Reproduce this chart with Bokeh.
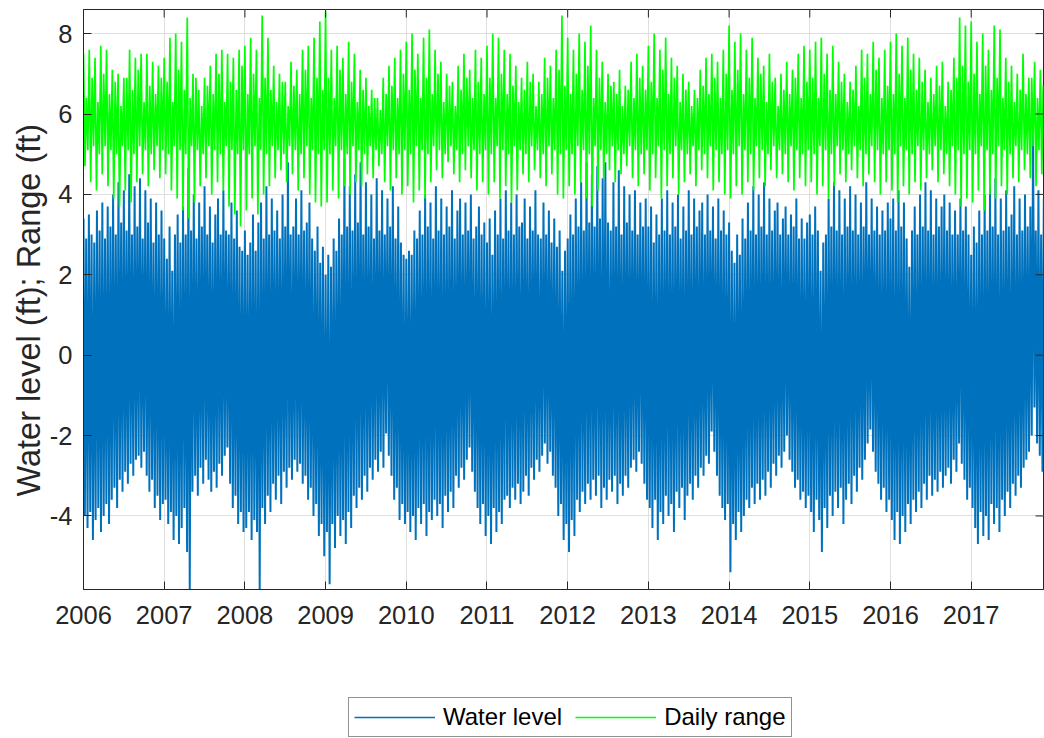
import numpy as np
from bokeh.plotting import figure
from bokeh.layouts import column
from bokeh.models import Range1d, FixedTicker, Legend, LegendItem, Title
from bokeh.embed import file_html
from bokeh.resources import INLINE

# ---------------- data ----------------
years = list(range(2006, 2018))
year_ticks = [2006, 2007, 2008, 2009, 2010, 2011, 2012, 2013, 2014, 2015, 2016, 2017]
level_ticks = [-4, -2, 0, 2, 4, 6, 8]

# Water level: high / low of each ~12-day window, 30 windows per year (ft)
wl_high = [
    [3.4,2.9,3.5,3.0,2.8,3.6,3.1,3.8,2.9,3.7, 3.2,4.0,3.0,4.3,3.3,4.1,3.1,4.5,3.0,4.2, 3.2,4.4,2.9,4.1,3.3,3.9,2.8,3.8,3.0,3.6],
    [2.9,2.4,3.2,2.1,3.0,3.5,2.8,3.7,3.0,4.65, 3.1,4.0,2.9,3.8,3.2,4.2,3.0,3.7,2.8,3.5, 3.9,3.0,4.1,3.1,3.0,3.8,2.9,3.6,2.7,2.6],
    [3.1,2.5,2.8,3.5,2.6,3.3,3.8,2.9,4.2,3.0, 3.9,3.1,3.6,2.9,4.0,3.2,4.8,3.0,3.2,3.9, 3.0,4.1,3.1,3.3,3.8,2.9,2.6,3.2,2.3,2.7],
    [2.0,2.5,2.2,2.9,2.6,3.4,3.0,4.9,3.2,4.2, 3.1,4.5,3.3,4.8,3.0,4.3,3.2,4.0,2.9,4.4, 3.1,4.1,3.0,3.9,3.2,4.2,2.9,3.7,2.8,2.5],
    [2.4,2.6,2.5,3.1,2.9,3.6,3.0,4.0,3.2,3.8, 2.9,4.2,3.1,3.9,3.0,3.7,3.2,4.1,2.9,3.6, 3.9,3.0,3.8,3.1,4.0,2.9,3.2,3.7,3.0,3.3],
    [2.8,3.4,2.5,3.6,3.0,3.9,2.9,4.1,3.1,3.8, 3.0,4.0,3.2,3.3,3.9,2.9,3.7,3.1,4.1,3.0, 2.9,3.8,3.0,3.6,2.8,3.4,2.7,3.1,2.1,2.6],
    [2.9,3.5,3.0,3.9,3.2,4.3,3.1,4.8,3.3,4.5, 3.2,4.7,3.4,4.4,4.8,3.3,3.1,4.3,3.2,4.6, 3.0,4.2,3.3,4.0,3.1,4.1,3.0,3.8,3.2,3.9],
    [3.2,3.7,2.8,3.5,3.0,3.9,3.1,4.1,3.0,3.8, 3.2,4.0,2.9,3.7,3.1,4.1,3.0,3.9,3.2,3.6, 3.8,3.0,4.0,3.1,3.7,2.9,3.9,3.1,3.6,3.0],
    [3.3,2.6,2.3,3.0,2.5,3.4,2.9,3.8,3.1,4.2, 3.0,4.0,3.2,4.3,3.0,3.9,3.1,3.6,3.8,3.0, 3.4,3.7,3.0,3.5,3.2,3.9,2.9,3.4,2.9,3.3],
    [3.5,3.0,3.7,3.1,2.1,2.8,3.0,3.9,3.2,4.3, 3.1,4.1,3.0,3.9,3.2,4.2,3.1,4.0,3.0,3.8, 3.2,4.3,3.0,3.9,3.1,3.7,3.0,3.6,3.1,3.8],
    [3.4,3.9,3.1,4.1,3.2,3.8,2.9,2.2,3.1,3.7, 3.0,4.0,3.2,4.3,3.1,4.1,3.0,3.9,3.2,3.7, 4.0,3.1,3.8,3.0,3.6,3.0,3.9,3.1,3.7,3.0],
    [2.5,3.2,2.8,3.6,3.0,4.0,3.1,4.2,3.2,4.4, 3.0,3.9,3.1,4.1,3.2,3.5,4.2,3.0,3.9,3.1, 4.0,3.2,3.7,5.5,3.1,4.1,3.0,3.9,3.2,3.7],
]
wl_low = [
    [-4.0,-4.3,-3.9,-4.6,-4.1,-3.8,-4.4,-4.0,-3.7,-4.2, -3.6,-3.3,-3.8,-3.1,-3.4,-2.9,-3.2,-2.7,-3.0,-2.6, -2.5,-2.8,-2.4,-3.0,-3.4,-3.1,-3.8,-3.5,-4.1,-3.7],
    [-3.6,-4.2,-3.9,-4.6,-4.0,-4.7,-4.3,-3.8,-4.9,-5.85, -3.4,-3.0,-3.5,-2.8,-3.2,-2.6,-3.1,-3.4,-2.9,-3.3, -2.7,-3.0,-2.5,-2.3,-3.2,-3.8,-3.5,-4.2,-3.9,-4.4],
    [-4.3,-3.9,-4.6,-4.1,-4.4,-5.9,-3.8,-4.2,-3.5,-3.9, -3.2,-3.6,-3.0,-3.7,-2.9,-3.3,-2.8,-3.1,-2.6,-2.9, -2.7,-3.2,-3.0,-3.6,-3.3,-4.0,-3.7,-4.5,-4.2,-5.0],
    [-4.4,-5.7,-4.2,-4.8,-4.0,-4.5,-4.1,-4.7,-3.9,-4.3, -3.5,-3.8,-3.3,-3.6,-3.0,-3.4,-2.8,-3.1,-2.6,-2.9, -2.4,-2.8,-1.95,-2.5,-3.0,-3.6,-3.3,-4.1,-3.7,-4.2],
    [-3.9,-4.4,-4.0,-4.6,-3.8,-4.2,-3.7,-4.5,-3.9,-4.1, -3.6,-4.0,-3.7,-4.3,-3.5,-3.9,-3.4,-3.8,-3.0,-3.3, -2.8,-3.1,-2.6,-2.3,-2.9,-3.4,-3.8,-4.2,-3.7,-4.5],
    [-4.0,-4.7,-3.8,-4.4,-3.9,-4.2,-3.6,-3.5,-3.8,-3.3, -3.6,-3.2,-3.7,-3.4,-3.0,-3.5,-2.8,-3.1,-2.6,-2.9, -2.5,-2.2,-2.7,-2.4,-3.0,-3.3,-4.0,-3.7,-4.6,-4.2],
    [-4.9,-4.1,-4.5,-3.6,-3.9,-3.4,-3.7,-3.2,-3.6,-3.1, -3.5,-3.0,-3.8,-3.3,-3.6,-3.1,-3.4,-3.0,-3.7,-3.2, -3.5,-3.0,-3.3,-2.8,-2.6,-2.9,-2.4,-2.7,-3.2,-3.6],
    [-3.8,-4.3,-3.6,-4.6,-3.9,-4.2,-3.5,-4.0,-3.7,-4.4, -3.4,-3.8,-3.3,-4.1,-3.5,-3.2,-3.6,-3.0,-3.3,-2.8, -3.0,-2.5,-2.7,-1.9,-2.4,-3.0,-3.5,-3.8,-4.1,-3.7],
    [-5.4,-4.2,-4.6,-3.9,-4.4,-4.0,-3.6,-3.8,-3.3,-3.7, -3.2,-3.6,-3.1,-3.5,-2.9,-3.3,-2.7,-3.0,-2.5,-2.8, -2.4,-2.0,-2.6,-2.9,-3.3,-3.1,-3.6,-3.4,-3.8,-3.5],
    [-3.9,-4.4,-3.6,-4.1,-4.9,-3.8,-4.3,-3.5,-4.0,-3.4, -3.8,-3.3,-4.2,-3.6,-3.2,-3.7,-3.0,-3.4,-2.8,-3.1, -2.6,-2.2,-1.85,-2.4,-2.9,-3.2,-3.6,-3.3,-3.9,-3.6],
    [-4.1,-4.6,-3.9,-4.7,-4.0,-4.4,-3.7,-4.2,-3.6,-3.9, -3.4,-3.8,-3.2,-3.6,-3.0,-3.5,-3.1,-3.4,-2.9,-3.3, -3.0,-2.8,-3.2,-2.6,-2.9,-2.2,-2.7,-3.1,-3.6,-3.3],
    [-3.8,-4.3,-4.7,-3.9,-4.5,-4.0,-4.6,-3.7,-4.2,-3.8, -4.4,-3.6,-4.0,-3.4,-3.8,-3.2,-3.5,-3.0,-3.3,-2.8, -2.6,-2.4,-2.0,-1.3,-2.2,-2.5,-2.9,-3.2,-2.8,-3.1],
]

# Daily range: high / low of each ~13-day window, 28 windows per year (ft)
range_high = [
    [7.5,6.4,7.6,6.9,7.4,6.3,7.7,7.0,7.6,6.5, 7.1,6.8,7.0,6.2,6.9,6.9,7.6,6.6,7.4,7.1, 7.5,6.3,7.5,6.7,7.3,6.5,7.2,6.9],
    [7.4,6.8,7.9,6.3,8.0,7.1,7.8,6.6,8.4,6.4, 7.0,6.9,6.6,6.2,6.9,6.7,7.2,6.5,7.5,7.0, 7.6,6.3,7.5,6.8,7.4,6.6,7.6,7.2],
    [7.7,6.5,7.9,7.0,7.6,6.4,8.45,6.9,7.9,6.6, 7.2,6.3,7.0,6.8,6.8,6.2,7.3,6.7,7.1,6.5, 7.6,7.1,7.7,6.4,7.9,6.9,8.3,6.6],
    [8.55,6.9,7.6,6.4,7.7,7.1,7.4,6.5,7.8,6.8, 7.5,6.3,7.1,6.6,6.9,6.2,6.6,6.4,6.4,6.1, 6.9,6.5,7.2,6.7,7.4,6.4,7.6,7.0],
    [7.8,6.6,8.0,7.1,7.5,6.4,7.9,6.9,8.1,6.5, 7.6,7.0,7.3,6.3,7.0,6.7,6.8,6.2,7.2,6.6, 7.5,6.9,7.1,6.4,7.6,6.8,7.4,6.5],
    [7.7,6.9,8.0,6.4,7.9,7.0,7.6,6.5,7.5,6.7, 7.2,6.3,6.9,6.6,7.3,6.8,7.0,6.2,6.8,6.5, 7.4,6.9,7.2,6.4,7.6,7.1,8.45,6.7],
    [7.9,6.5,7.6,7.0,8.0,6.6,7.8,7.2,8.2,6.4, 7.6,6.9,7.3,6.3,7.0,6.7,6.8,6.5,7.1,6.2, 6.7,6.6,7.3,6.4,7.5,6.9,7.2,6.6],
    [7.7,6.8,8.0,6.4,7.6,7.1,7.9,6.5,7.4,6.9, 7.2,6.3,7.0,6.6,6.8,6.2,6.6,6.4,7.1,6.7, 7.4,6.5,7.5,6.9,7.3,6.4,7.6,7.0],
    [8.2,6.6,7.8,7.1,8.0,6.5,7.6,6.9,7.9,6.4, 7.4,7.0,7.2,6.3,7.5,6.8,6.9,6.2,7.0,6.6, 7.3,6.5,7.1,6.9,7.5,6.4,7.7,6.8],
    [7.6,6.9,7.8,6.4,7.9,7.0,7.5,6.6,7.7,6.5, 7.3,6.8,7.0,6.3,6.8,6.6,7.2,6.2,7.6,6.9, 7.5,6.5,7.8,7.1,7.4,6.4,7.6,6.7],
    [7.8,6.5,8.0,7.0,7.7,6.4,7.9,7.1,7.5,6.6, 7.4,6.8,7.1,6.3,6.9,6.5,7.2,6.7,7.3,6.2, 6.8,6.6,7.4,6.9,8.4,7.2,8.2,6.8],
    [8.3,7.0,7.8,6.5,8.0,7.2,7.6,6.6,8.2,6.9, 8.1,6.4,7.4,6.8,7.2,6.3,7.0,6.6,7.5,6.5, 6.9,6.9,7.3,6.4,7.1,6.7,7.4,6.6],
]
range_low = [
    [4.7,5.1,4.3,5.2,4.1,5.0,4.5,5.2,4.2,5.1, 3.9,5.0,3.7,5.2,4.1,5.1,3.8,5.0,4.3,5.2, 4.5,5.1,4.2,5.0,4.6,5.2,4.4,5.1],
    [4.5,5.0,4.1,5.2,3.9,5.1,3.6,5.0,3.4,5.2, 3.8,5.1,4.2,5.0,4.4,5.2,4.0,5.1,4.3,5.0, 4.1,5.2,3.7,5.1,3.5,5.0,3.2,5.1],
    [3.6,5.0,3.9,5.2,3.5,5.1,4.0,5.0,4.2,5.2, 4.4,5.1,4.6,5.0,4.3,5.2,4.5,5.1,4.1,5.0, 4.4,5.2,4.0,5.1,3.8,5.0,3.7,5.1],
    [3.8,5.0,4.1,5.2,3.9,5.1,4.2,5.0,4.0,5.2, 4.3,5.1,4.2,5.0,4.5,5.2,4.4,5.1,4.7,5.0, 4.3,5.2,4.1,5.1,4.4,5.0,4.0,5.1],
    [4.2,5.0,3.8,5.2,4.1,5.1,3.9,5.0,4.3,5.2, 4.6,5.1,4.4,5.0,4.8,5.2,4.5,5.1,4.3,5.0, 4.6,5.2,4.4,5.1,4.1,5.0,4.3,5.1],
    [4.0,5.0,4.3,5.2,3.9,5.1,4.2,5.0,3.8,5.2, 4.1,5.1,4.5,5.0,4.3,5.2,4.6,5.1,4.4,5.0, 4.2,5.2,4.5,5.1,4.0,5.0,3.9,5.1],
    [4.2,5.0,4.0,5.2,4.3,5.1,3.9,5.0,3.7,5.2, 4.1,5.1,4.4,5.0,4.6,5.2,4.3,5.1,4.5,5.0, 4.7,5.2,4.4,5.1,4.2,5.0,4.5,5.1],
    [4.1,5.0,4.4,5.2,3.9,5.1,4.2,5.0,4.4,5.2, 4.0,5.1,4.3,5.0,4.5,5.2,4.2,5.1,4.6,5.0, 4.4,5.2,4.1,5.1,4.3,5.0,4.0,5.1],
    [3.9,5.0,4.2,5.2,4.0,5.1,4.3,5.0,4.1,5.2, 4.4,5.1,4.2,5.0,4.6,5.2,4.4,5.1,4.5,5.0, 4.3,5.2,4.1,5.1,4.4,5.0,4.2,5.1],
    [4.3,5.0,4.0,5.2,4.2,5.1,3.9,5.0,4.2,5.2, 4.5,5.1,4.3,5.0,4.6,5.2,4.4,5.1,4.2,5.0, 4.5,5.2,4.3,5.1,4.0,5.0,4.3,5.1],
    [4.1,5.0,3.8,5.2,4.2,5.1,4.0,5.0,4.3,5.2, 4.1,5.1,4.4,5.0,4.6,5.2,4.3,5.1,4.5,5.0, 4.2,5.2,4.0,5.1,3.7,5.0,3.9,5.1],
    [3.8,5.0,4.1,5.2,3.6,5.1,4.0,5.0,3.9,5.2, 4.2,5.1,4.0,5.0,4.4,5.2,4.3,5.1,4.6,5.0, 4.4,5.2,4.2,5.1,4.5,5.0,4.3,5.1],
]
WL_PER_YEAR = 30
RG_PER_YEAR = 28
X_START, X_END = 2006, 2017.896
Y_START, Y_END = -5.83, 8.6


def zigzag(hi_rows, lo_rows, per_year):
    hi = np.concatenate([np.asarray(r, float) for r in hi_rows])
    lo = np.concatenate([np.asarray(r, float) for r in lo_rows])
    n = min(len(hi), len(lo))
    t = years[0] + np.arange(n) / per_year
    x = np.empty(2 * n)
    y = np.empty(2 * n)
    x[0::2] = t
    x[1::2] = t + 0.5 / per_year
    y[0::2] = hi[:n]
    y[1::2] = lo[:n]
    return x, y


wl_x, wl_y = zigzag(wl_high, wl_low, WL_PER_YEAR)
rg_x, rg_y = zigzag(range_high, range_low, RG_PER_YEAR)

# ---------------- figure ----------------
FONT = "Liberation Sans"
AX = "#262626"
BLUE = "#0072BD"
GREEN = "#00FF00"

p = figure(width=1044, height=649, output_backend="svg", toolbar_location=None,
           x_range=Range1d(X_START, X_END), y_range=Range1d(Y_START, Y_END),
           min_border_left=83, min_border_right=1, min_border_top=9,
           min_border_bottom=60, background_fill_color="white",
           border_fill_color="white")
p.outline_line_color = AX
p.outline_line_width = 1

p.line(wl_x, wl_y, line_color=BLUE, line_width=2)
p.line(rg_x, rg_y, line_color=GREEN, line_width=1.7)

# mirrored inward ticks on the top and right edges of the box
p.scatter(x=year_ticks, y=[Y_END] * len(year_ticks), marker="dash", size=16,
          angle=np.pi / 2, line_color=AX, line_width=1)
p.scatter(x=[X_END] * len(level_ticks), y=level_ticks, marker="dash", size=16,
          line_color=AX, line_width=1)

for ax in (p.xaxis[0], p.yaxis[0]):
    ax.major_tick_in = 8
    ax.major_tick_out = 0
    ax.minor_tick_line_color = None
    ax.axis_line_color = AX
    ax.major_tick_line_color = AX
    ax.major_label_text_font = FONT
    ax.major_label_text_font_size = "25.5px"
    ax.major_label_text_color = AX

p.xaxis[0].ticker = FixedTicker(ticks=year_ticks)
p.xaxis[0].major_label_overrides = {t: str(t) for t in year_ticks}
p.xaxis[0].major_label_standoff = 16
p.yaxis[0].ticker = FixedTicker(ticks=level_ticks)
p.yaxis[0].major_label_overrides = {t: str(t) for t in level_ticks}
p.yaxis[0].major_label_standoff = 11

# y-axis label, set in the left panel (slightly below the frame's centre, as in the original)
ylab = Title(text="Water level (ft); Range (ft)", align="left", offset=93,
             text_font=FONT, text_font_size="32.5px", text_font_style="normal",
             text_color=AX, standoff=0)
p.add_layout(ylab, "left")

p.xgrid.ticker = FixedTicker(ticks=year_ticks)
p.ygrid.ticker = FixedTicker(ticks=level_ticks)
p.grid.grid_line_color = "#dfdfdf"
p.grid.grid_line_width = 1

# ---------------- legend strip under the axes ----------------
lg = figure(width=1044, height=89, output_backend="svg", toolbar_location=None,
            x_range=Range1d(0, 1), y_range=Range1d(0, 1),
            x_axis_type=None, y_axis_type=None,
            min_border_left=83, min_border_right=1, min_border_top=0,
            min_border_bottom=0, outline_line_color=None,
            background_fill_color="white", border_fill_color="white")
lg.grid.visible = False
# legend keys: the same series, lying outside this strip's (0..1) ranges
k_wl = lg.line(wl_x, wl_y, line_color=BLUE, line_width=1.5)
k_rg = lg.line(rg_x, rg_y, line_color=GREEN, line_width=1.5)
legend = Legend(items=[LegendItem(label="Water level", renderers=[k_wl]),
                       LegendItem(label="Daily range", renderers=[k_rg])],
                orientation="horizontal", location=(265, 1), margin=0,
                padding=5, spacing=13, glyph_width=81, glyph_height=20,
                label_standoff=8, label_text_font=FONT, label_text_font_size="24px",
                label_text_color="#000000", border_line_color=AX,
                border_line_width=1, background_fill_color="white",
                background_fill_alpha=1)
lg.add_layout(legend)

layout = column(p, lg, spacing=0)
open("out.html", "w").write(file_html(layout, INLINE))
